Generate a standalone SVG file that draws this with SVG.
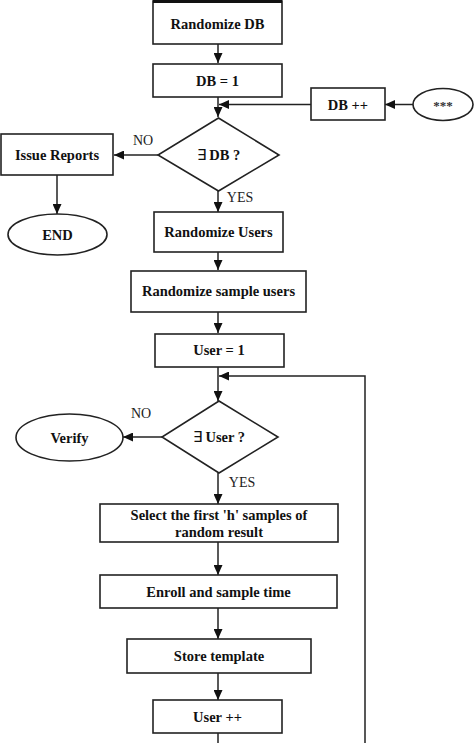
<svg xmlns="http://www.w3.org/2000/svg" width="474" height="743" viewBox="0 0 474 743">
<defs>
<marker id="ah" markerUnits="userSpaceOnUse" markerWidth="10" markerHeight="9" refX="10" refY="4.5" orient="auto">
<path d="M0,0 L10,4.5 L0,9 Z" fill="#111"/>
</marker>
<style>
.n{fill:#fff;stroke:#222;stroke-width:1.6}
.t{font-family:"Liberation Serif","Times New Roman",serif;font-weight:bold;font-size:14.5px;fill:#111;text-anchor:middle}
.l{font-family:"Liberation Serif","Times New Roman",serif;font-size:14px;fill:#222;text-anchor:middle}
.e{font-weight:normal}
.c{fill:none;stroke:#222;stroke-width:1.5}
.a{fill:none;stroke:#222;stroke-width:1.5;marker-end:url(#ah)}
</style>
</defs>
<rect width="474" height="743" fill="#fff"/>
<g id="connectors">
<line class="a" x1="218" y1="44" x2="218" y2="63"/>
<line class="a" x1="218" y1="97" x2="218" y2="117"/>
<line class="a" x1="311" y1="104.5" x2="219" y2="104.5"/>
<line class="a" x1="413" y1="104.5" x2="385" y2="104.5"/>
<line class="a" x1="158" y1="155" x2="114" y2="155"/>
<line class="a" x1="57" y1="175" x2="57" y2="214"/>
<line class="a" x1="218" y1="191" x2="218" y2="212"/>
<line class="a" x1="218" y1="252" x2="218" y2="270"/>
<line class="a" x1="218" y1="312" x2="218" y2="333"/>
<line class="a" x1="218" y1="367" x2="218" y2="401"/>
<polyline class="a" points="365,743 365,376 219,376"/>
<line class="a" x1="162" y1="437" x2="123" y2="437"/>
<line class="a" x1="218" y1="473" x2="218" y2="504"/>
<line class="a" x1="218" y1="542" x2="218" y2="575"/>
<line class="a" x1="218" y1="608" x2="218" y2="639"/>
<line class="a" x1="218" y1="673" x2="218" y2="700"/>
<line class="c" x1="218" y1="733" x2="218" y2="743"/>
<text class="l" x="143" y="145">NO</text>
<text class="l" x="240" y="202">YES</text>
<text class="l" x="141" y="418">NO</text>
<text class="l" x="242" y="487">YES</text>
</g>
<g id="randomize-db">
<rect class="n" x="153" y="1" width="129" height="43"/>
<rect x="153" y="0" width="129" height="3" fill="#111"/>
<text class="t" x="217.5" y="29">Randomize DB</text>
</g>
<g id="db-1">
<rect class="n" x="153" y="64" width="129" height="33"/>
<text class="t" x="217.5" y="86">DB = 1</text>
</g>
<g id="db-inc">
<rect class="n" x="311" y="88" width="74" height="32"/>
<text class="t" x="348" y="109.5">DB ++</text>
</g>
<g id="stars">
<ellipse class="n" cx="443" cy="104.5" rx="30" ry="16"/>
<text class="t" x="443" y="109.5" style="font-size:13px;fill:#333">***</text>
</g>
<g id="exists-db">
<polygon class="n" points="218.5,118 279,155 218.5,191 158,155"/>
<text class="t" x="218.5" y="160"><tspan class="e">∃</tspan> DB ?</text>
</g>
<g id="issue-reports">
<rect class="n" x="1" y="134" width="112" height="41"/>
<text class="t" x="57" y="160">Issue Reports</text>
</g>
<g id="end">
<ellipse class="n" cx="57.5" cy="234.5" rx="49.5" ry="20.5"/>
<text class="t" x="57.5" y="239.5">END</text>
</g>
<g id="randomize-users">
<rect class="n" x="154" y="212" width="129" height="40"/>
<text class="t" x="218.5" y="237">Randomize Users</text>
</g>
<g id="randomize-sample-users">
<rect class="n" x="131" y="271" width="175" height="41"/>
<text class="t" x="218.5" y="296">Randomize sample users</text>
</g>
<g id="user-1">
<rect class="n" x="155" y="334" width="129" height="33"/>
<text class="t" x="219" y="355">User = 1</text>
</g>
<g id="exists-user">
<polygon class="n" points="219,401 278,437 219,473 162,437"/>
<text class="t" x="219" y="442"><tspan class="e">∃</tspan> User ?</text>
</g>
<g id="verify">
<ellipse class="n" cx="69.5" cy="437.5" rx="53.5" ry="23.5"/>
<text class="t" x="69.5" y="442.5">Verify</text>
</g>
<g id="select">
<rect class="n" x="100" y="504" width="238" height="38"/>
<text class="t" x="219" y="520">Select the first 'h' samples of</text>
<text class="t" x="219" y="536.5">random result</text>
</g>
<g id="enroll">
<rect class="n" x="100" y="575" width="237" height="33"/>
<text class="t" x="218.5" y="596.5">Enroll and sample time</text>
</g>
<g id="store">
<rect class="n" x="127" y="639" width="184" height="34"/>
<text class="t" x="219" y="661">Store template</text>
</g>
<g id="user-inc">
<rect class="n" x="153" y="700" width="129" height="33"/>
<text class="t" x="217.5" y="721.5">User ++</text>
</g>
</svg>
